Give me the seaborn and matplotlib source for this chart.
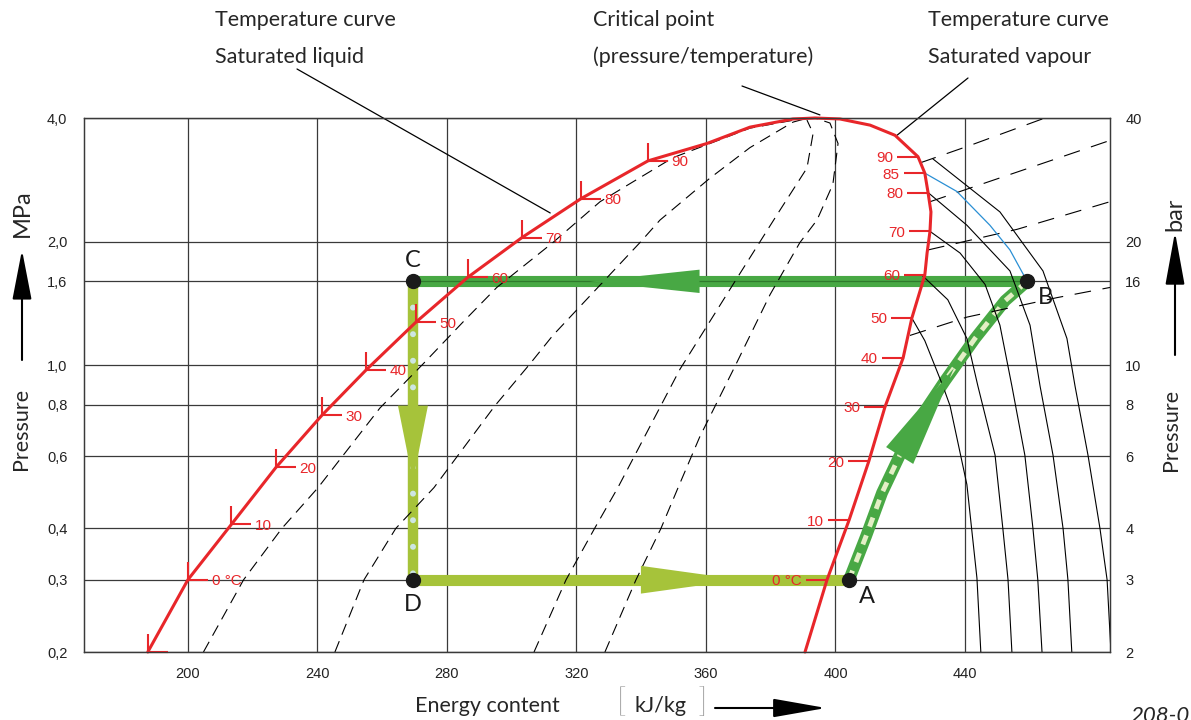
import numpy as np
import pandas as pd
import matplotlib
matplotlib.use("Agg")
import matplotlib.pyplot as plt
from matplotlib.path import Path
from matplotlib.ticker import NullLocator, NullFormatter
import seaborn as sns

# log p-h diagram of the refrigerant, h in kJ/kg, p in MPa
# saturation dome (liquid side up to critical point, then vapour side down)
dome_h = [187.6, 200.0, 213.4, 227.2, 241.4, 255.0, 270.4, 286.5, 303.2, 321.4, 342.1,
          360.3, 373.6, 386.9, 393.7, 401.4, 410.7, 418.4, 425.5, 427.6, 428.6, 429.5,
          429.2, 428.3, 427.6, 423.6, 420.9, 415.3, 410.3, 404.2, 397.4, 390.6]
dome_p = [0.200, 0.300, 0.409, 0.5635, 0.755, 0.9725, 1.272, 1.638, 2.046, 2.544, 3.145,
          3.467, 3.80, 3.978, 4.0, 3.978, 3.843, 3.63, 3.219, 2.936, 2.633, 2.362,
          2.118, 1.875, 1.657, 1.302, 1.041, 0.791, 0.583, 0.419, 0.300, 0.200]

# temperature marks on the saturated liquid line
liq_temp = [-10, 0, 10, 20, 30, 40, 50, 60, 70, 80, 90]
liq_h = [187.6, 200.0, 213.4, 227.2, 241.4, 255.0, 270.4, 286.5, 303.2, 321.4, 342.1]
liq_p = [0.200, 0.300, 0.409, 0.5635, 0.755, 0.9725, 1.272, 1.638, 2.046, 2.544, 3.145]

# temperature marks on the saturated vapour line
vap_temp = [90, 85, 80, 70, 60, 50, 40, 30, 20, 10, 0]
vap_h = [425.5, 427.6, 428.6, 429.2, 427.6, 423.6, 420.9, 415.3, 410.3, 404.2, 397.4]
vap_p = [3.219, 2.936, 2.633, 2.118, 1.657, 1.302, 1.041, 0.791, 0.583, 0.419, 0.300]

# dashed lines inside the dome
wet1_h = [204.8, 217.2, 229.0, 240.2, 259.3, 272.6, 284.9, 295.4, 312.7, 327.3, 349.8, 373.6, 390.0]
wet1_p = [0.2, 0.3, 0.4, 0.503, 0.786, 1.006, 1.272, 1.546, 1.988, 2.501, 3.201, 3.779, 3.99]
wet2_h = [245.4, 254.4, 264.2, 276.0, 294.8, 305.6, 312.7, 339.6, 345.8, 361.2, 373.6, 386.9, 391.5]
wet2_p = [0.2, 0.3, 0.4, 0.503, 0.7957, 1.006, 1.181, 1.988, 2.256, 2.853, 3.388, 3.909, 4.0]
wet3_h = [306.9, 316.8, 325.6, 332.8, 352.0, 367.4, 381.9, 391.2, 393.1, 391.2]
wet3_p = [0.2, 0.3, 0.4, 0.503, 0.978, 1.529, 2.321, 3.021, 3.671, 3.954]
wet4_h = [328.8, 338.4, 346.1, 351.4, 358.1, 369.0, 379.8, 389.0, 394.3, 399.2, 400.8, 398.3, 393.7]
wet4_p = [0.2, 0.3, 0.4, 0.503, 0.669, 0.9945, 1.485, 1.988, 2.256, 2.757, 3.467, 3.889, 4.0]

# dashed lines in the superheated region
sup1_h = [426.1, 441.5, 464.7]
sup1_p = [3.109, 3.428, 4.0]
sup2_h = [429.2, 447.7, 484.8]
sup2_p = [2.501, 2.804, 3.527]
sup3_h = [428.6, 456.1, 484.8]
sup3_p = [1.908, 2.142, 2.501]
sup4_h = [423.0, 440.6, 468.4, 484.8]
sup4_p = [1.181, 1.309, 1.46, 1.546]

# isotherms in the superheated region
iso50_h = [423.6, 427.6, 433.2, 435.4, 440.6, 443.7, 444.9]
iso50_p = [1.302, 1.147, 0.889, 0.7957, 0.5115, 0.3028, 0.2]
iso60_h = [426.7, 434.7, 440.6, 444.0, 449.3, 451.7, 453.3, 454.5]
iso60_p = [1.657, 1.443, 1.161, 0.889, 0.6035, 0.4, 0.3, 0.2]
iso70_h = [429.2, 438.5, 446.2, 450.8, 454.5, 458.5, 461.0, 462.5, 463.8]
iso70_p = [2.118, 1.875, 1.573, 1.251, 0.889, 0.6035, 0.4, 0.3, 0.2]
iso80_h = [428.6, 440.6, 453.9, 460.1, 463.2, 467.2, 470.3, 471.8, 473.0]
iso80_p = [2.633, 2.192, 1.696, 1.251, 0.889, 0.6035, 0.4, 0.3, 0.2]
iso90_h = [430.1, 450.8, 464.1, 471.5, 474.0, 478.0, 481.7, 483.9, 485.1]
iso90_p = [3.18, 2.362, 1.696, 1.161, 0.889, 0.6035, 0.4, 0.3, 0.2]
iso85_h = [427.6, 437.5, 447.7, 453.9, 459.2]
iso85_p = [2.936, 2.649, 2.192, 1.908, 1.6]

# refrigeration cycle
pt_name = ["A", "B", "C", "D"]
pt_h = [404.2, 459.2, 269.5, 269.5]
pt_p = [0.3, 1.6, 1.6, 0.3]
comp_h = [404.2, 409.4, 414.4, 419.9, 426.1, 433.8, 443.1, 452.4, 459.2]
comp_p = [0.3, 0.382, 0.4886, 0.6035, 0.7423, 0.915, 1.161, 1.435, 1.6]

p_ticks = [0.2, 0.3, 0.4, 0.6, 0.8, 1.0, 1.6, 2.0, 4.0]
p_labels_mpa = ["0,2", "0,3", "0,4", "0,6", "0,8", "1,0", "1,6", "2,0", "4,0"]
p_labels_bar = ["2", "3", "4", "6", "8", "10", "16", "20", "40"]
h_ticks = [200, 240, 280, 320, 360, 400, 440]

sns.set_theme(style="white")
plt.rcParams["font.family"] = ["Lato", "DejaVu Sans"]

RED = "#e8262a"
DKGREEN = "#48a844"
YGREEN = "#a6c33a"
W, H = 1191, 720

fig = plt.figure(figsize=(W / 100, H / 100), dpi=100)
ax = fig.add_axes([84 / W, 1 - 652 / H, 1026 / W, 534 / H])
ax.set_yscale("log")

# saturation curve
sns.lineplot(x=dome_h, y=dome_p, sort=False, estimator=None, color=RED, lw=2.2,
             ax=ax, zorder=4, clip_on=False, legend=False)

for hh, pp in [(wet1_h, wet1_p), (wet2_h, wet2_p), (wet3_h, wet3_p), (wet4_h, wet4_p)]:
    sns.lineplot(x=hh, y=pp, sort=False, estimator=None, color="black", lw=0.8,
                 dashes=(10.5, 6.3), ax=ax, zorder=3, legend=False)
for hh, pp in [(sup1_h, sup1_p), (sup2_h, sup2_p), (sup3_h, sup3_p), (sup4_h, sup4_p)]:
    sns.lineplot(x=hh, y=pp, sort=False, estimator=None, color="black", lw=0.8,
                 dashes=(15, 10.5), ax=ax, zorder=3, legend=False)
for hh, pp in [(iso50_h, iso50_p), (iso60_h, iso60_p), (iso70_h, iso70_p),
               (iso80_h, iso80_p), (iso90_h, iso90_p)]:
    sns.lineplot(x=hh, y=pp, sort=False, estimator=None, color="black", lw=0.8,
                 ax=ax, zorder=3, legend=False)
sns.lineplot(x=iso85_h, y=iso85_p, sort=False, estimator=None, color="#2a8fd4", lw=0.9,
             ax=ax, zorder=3, legend=False)

# temperature marks
l_mark = Path([(0, 0.9), (0, 0), (1, 0)], [Path.MOVETO, Path.LINETO, Path.LINETO])
h_mark = Path([(0, 0), (-1, 0)], [Path.MOVETO, Path.LINETO])
ax.plot(liq_h, liq_p, ls="none", marker=l_mark, ms=28.8, mfc="none", mec=RED, mew=1.5,
        zorder=4, clip_on=False)
ax.plot(vap_h, vap_p, ls="none", marker=h_mark, ms=30, mfc="none", mec=RED, mew=1.5,
        zorder=4, clip_on=False)
for h, p, t in zip(liq_h, liq_p, liq_temp):
    if t < 0:
        continue
    ax.annotate("0 °C" if t == 0 else str(t), (h, p), xytext=(17, -1), textcoords="offset points",
                ha="left", va="center", color=RED, fontsize=11, family="Liberation Sans", zorder=8)
for h, p, t in zip(vap_h, vap_p, vap_temp):
    ax.annotate("0 °C" if t == 0 else str(t), (h, p), xytext=(-18, -1), textcoords="offset points",
                ha="right", va="center", color=RED, fontsize=11, family="Liberation Sans", zorder=8)

# cycle bands
hA, hB, hC, hD = pt_h
pA, pB, pC, pD = pt_p
ax.plot([hB, hC], [pB, pC], color=DKGREEN, lw=8, solid_capstyle="butt", zorder=2)
ax.plot([hB, hC], [pB, pC], color="#2f7a2c", lw=0.9, zorder=2.1)
ax.plot([hC, hD], [pC, pD], color=YGREEN, lw=7.5, solid_capstyle="butt", zorder=2)
ax.plot([hC, hD], [pC, pD], color="#cde6e3", lw=4.3, dashes=(0.01, 4.44),
        dash_capstyle="round", zorder=2.2)
ax.plot([hD, hA], [pD, pA], color=YGREEN, lw=8, solid_capstyle="butt", zorder=2)
ax.plot(comp_h, comp_p, color=DKGREEN, lw=8.5, solid_capstyle="butt", zorder=2)
ax.plot(comp_h, comp_p, color="#e3efc5", lw=3.5, dashes=(2.0, 1.9), zorder=2.2)


def head(tip, base, length, half, color):
    ax.annotate("", xy=tip, xytext=base, annotation_clip=False, zorder=5,
                arrowprops=dict(arrowstyle=f"-|>,head_length={length},head_width={half}",
                                mutation_scale=1, color=color, lw=0, shrinkA=0, shrinkB=0))


def frac_h(h0, h1, f):
    return h0 + f * (h1 - h0)


def frac_p(p0, p1, f):
    return p0 * (p1 / p0) ** f


head((frac_h(hB, hC, 0.712), pB), (frac_h(hB, hC, 0.533), pB), 79, 8.4, DKGREEN)
head((frac_h(hD, hA, 0.752), pD), (frac_h(hD, hA, 0.523), pD), 72, 10, YGREEN)
head((hC, frac_p(pC, pD, 0.668)), (hC, frac_p(pC, pD, 0.414)), 54, 10.8, YGREEN)
head((frac_h(comp_h[5], comp_h[6], 0.3), frac_p(comp_p[5], comp_p[6], 0.3)),
     (comp_h[3], comp_p[3]), 74, 11.5, DKGREEN)

ax.plot(pt_h, pt_p, ls="none", marker="o", ms=10, color="#1a1a1a", zorder=7, clip_on=False)
offs = {"A": (13, -12), "B": (13, -12), "C": (0, 15), "D": (0, -18)}
for n, h, p in zip(pt_name, pt_h, pt_p):
    ax.annotate(n, (h, p), xytext=offs[n], textcoords="offset points", ha="center", va="center",
                fontsize=17, color="#1a1a1a", zorder=8)

# axes, grid
ax.set_xlim(167.9, 484.8)
ax.set_ylim(0.2, 4.0)
ax.set_xticks(h_ticks)
ax.set_yticks(p_ticks)
ax.set_yticklabels(p_labels_mpa)
ax.yaxis.set_minor_locator(NullLocator())
ax.yaxis.set_minor_formatter(NullFormatter())
ax.grid(True, color="#3a3a3a", lw=0.9)
ax.set_axisbelow(True)
ax.tick_params(length=0, labelsize=10.5, labelfontfamily="Liberation Sans", colors="#222222")
ax.tick_params(axis="y", pad=12)
ax.tick_params(axis="x", pad=11)
for s in ax.spines.values():
    s.set_color("#3a3a3a")
    s.set_linewidth(0.9)

ax2 = ax.twinx()
ax2.set_yscale("log")
ax2.set_ylim(0.2, 4.0)
ax2.set_yticks(p_ticks)
ax2.set_yticklabels(p_labels_bar)
ax2.yaxis.set_minor_locator(NullLocator())
ax2.yaxis.set_minor_formatter(NullFormatter())
ax2.tick_params(length=0, labelsize=10.5, labelfontfamily="Liberation Sans", colors="#222222", pad=11)
for s in ax2.spines.values():
    s.set_color("#3a3a3a")
    s.set_linewidth(0.9)

# annotations around the chart
def fx(x):
    return x / W


def fy(y):
    return 1 - y / H


fig.text(fx(215), fy(20), "Temperature curve", fontsize=15.5, va="center")
fig.text(fx(215), fy(57), "Saturated liquid", fontsize=15.5, va="center")
fig.text(fx(593), fy(20), "Critical point", fontsize=15.5, va="center")
fig.text(fx(593), fy(57), "(pressure/temperature)", fontsize=15.5, va="center")
fig.text(fx(928), fy(20), "Temperature curve", fontsize=15.5, va="center")
fig.text(fx(928), fy(57), "Saturated vapour", fontsize=15.5, va="center")

lead = dict(arrowstyle="-", lw=0.9, color="black", shrinkA=0, shrinkB=0)
ax.annotate("", xy=(311.9, 2.348), xytext=(297, H - 69), textcoords="figure pixels",
            arrowprops=lead, annotation_clip=False)
ax.annotate("", xy=(395.2, 4.07), xytext=(742, H - 86), textcoords="figure pixels",
            arrowprops=lead, annotation_clip=False)
ax.annotate("", xy=(419.0, 3.63), xytext=(968, H - 78), textcoords="figure pixels",
            arrowprops=lead, annotation_clip=False)

fig.text(fx(21), fy(429), "Pressure", rotation=90, fontsize=15.5, ha="center", va="center")
fig.text(fx(22), fy(213), "MPa", rotation=90, fontsize=17, ha="center", va="center")
fig.text(fx(1171), fy(430), "Pressure", rotation=90, fontsize=15.5, ha="center", va="center")
fig.text(fx(1175), fy(214), "bar", rotation=90, fontsize=17, ha="center", va="center")
fig.text(fx(415), fy(706), "Energy content", fontsize=15.5, va="center")
fig.text(fx(660), fy(706), "kJ/kg", fontsize=15.5, ha="center", va="center")
fig.text(fx(621), fy(703), "[", fontsize=24, fontweight="light", ha="center", va="center")
fig.text(fx(702), fy(703), "]", fontsize=24, fontweight="light", ha="center", va="center")
fig.text(fx(1130), fy(706), "208-0", fontsize=16, style="italic", va="top")

axis_arrow = dict(mutation_scale=1, lw=1.5, color="black", shrinkA=0, shrinkB=0)
ax.annotate("", xy=(22, H - 250), xytext=(22, H - 360), xycoords="figure pixels",
            textcoords="figure pixels", annotation_clip=False,
            arrowprops=dict(arrowstyle="-|>,head_length=31,head_width=6", **axis_arrow))
ax.annotate("", xy=(1175, H - 232), xytext=(1175, H - 355), xycoords="figure pixels",
            textcoords="figure pixels", annotation_clip=False,
            arrowprops=dict(arrowstyle="-|>,head_length=33,head_width=6", **axis_arrow))
ax.annotate("", xy=(826, H - 708), xytext=(715, H - 708), xycoords="figure pixels",
            textcoords="figure pixels", annotation_clip=False,
            arrowprops=dict(arrowstyle="-|>,head_length=33,head_width=5.8", **axis_arrow))

fig.savefig("out.png", dpi=100)
